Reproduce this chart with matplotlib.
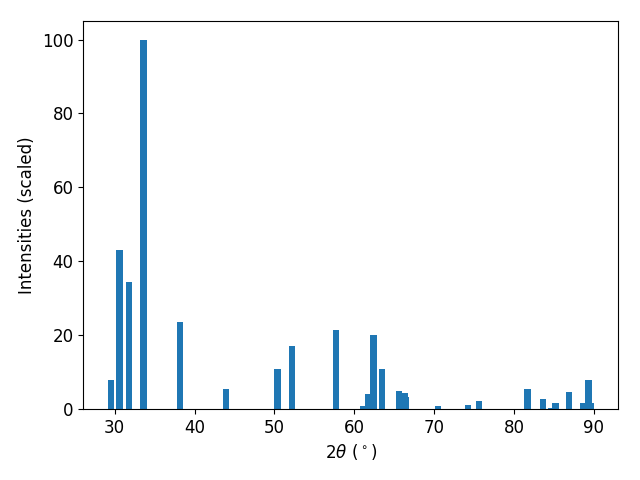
import matplotlib
matplotlib.use("Agg")
import matplotlib.pyplot as plt

plt.rcParams['font.size'] = 12

two_theta = [29.5, 30.6, 31.8, 33.6, 38.2, 43.9, 50.4, 52.2, 57.7,
             61.1, 61.7, 62.4, 63.5, 65.6, 66.3, 66.5, 70.5,
             74.2, 75.6, 81.7, 83.6, 84.7, 85.2, 86.9, 88.7, 89.3, 89.6]
intensity = [7.9, 42.9, 34.4, 100.0, 23.6, 5.4, 10.8, 17.1, 21.4,
             0.8, 4.1, 20.0, 10.8, 4.9, 4.3, 3.3, 0.8,
             1.1, 2.2, 5.4, 2.7, 0.3, 1.6, 4.6, 1.6, 7.9, 1.6]

fig, ax = plt.subplots(figsize=(6.4, 4.8), dpi=100)
ax.bar(two_theta, intensity)
ax.set_xlabel(r'$2\theta\ (^\circ)$')
ax.set_ylabel('Intensities (scaled)')
fig.subplots_adjust(left=0.130, right=0.966, bottom=0.148, top=0.956)
plt.savefig('out.png')
